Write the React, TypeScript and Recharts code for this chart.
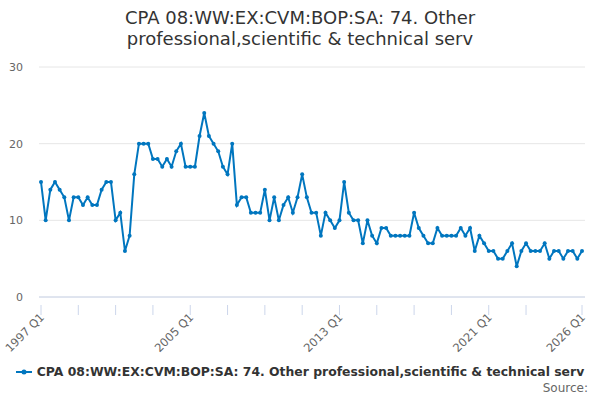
import React from "react";
import { LineChart, Line, XAxis, YAxis, CartesianGrid } from "recharts";

const startYear = 1997;
const endYear = 2026;
const values: number[] = [
  15, 10, 14, 15, 14, 13, 10, 13, 13, 12, 13, 12, 12, 14, 15, 15, 10, 11, 6, 8,
  16, 20, 20, 20, 18, 18, 17, 18, 17, 19, 20, 17, 17, 17, 21, 24, 21, 20, 19, 17,
  16, 20, 12, 13, 13, 11, 11, 11, 14, 10, 13, 10, 12, 13, 11, 13, 16, 13, 11, 11,
  8, 11, 10, 9, 10, 15, 11, 10, 10, 7, 10, 8, 7, 9, 9, 8, 8, 8, 8, 8,
  11, 9, 8, 7, 7, 9, 8, 8, 8, 8, 9, 8, 9, 6, 8, 7, 6, 6, 5, 5,
  6, 7, 4, 6, 7, 6, 6, 6, 7, 5, 6, 6, 5, 6, 6, 5, 6,
];
const yTicks = [0, 10, 20, 30];
const tickMarkLabels = [
  "1997 Q1", "1999 Q1", "2001 Q1", "2003 Q1", "2005 Q1", "2007 Q1", "2009 Q1",
  "2011 Q1", "2013 Q1", "2015 Q1", "2017 Q1", "2019 Q1", "2021 Q1", "2023 Q1", "2026 Q1",
];
const shownLabels = ["1997 Q1", "2005 Q1", "2013 Q1", "2021 Q1", "2026 Q1"];

const categories: string[] = [];
for (let y = startYear; y <= endYear; y++) {
  for (let q = 1; q <= 4; q++) {
    if (y === endYear && q > 1) break;
    categories.push(`${y} Q${q}`);
  }
}
const data = categories.map((c, i) => ({ period: c, value: values[i] }));

const COLOR = "#0076bf";
const FONT = "'DejaVu Sans', sans-serif";
const TITLE =
  "CPA 08:WW:EX:CVM:BOP:SA: 74. Other professional,scientific & technical serv";

const XTick = (props: any) => {
  const { x, y, payload } = props;
  const label = payload.value as string;
  return (
    <g>
      <line x1={x} y1={y} x2={x} y2={y + 10} stroke="#ccd6eb" strokeWidth={1} />
      {shownLabels.includes(label) && (
        <text
          x={x + 4}
          y={y + 13}
          textAnchor="end"
          fontSize={11.5}
          fill="#666666"
          fontFamily={FONT}
          transform={`rotate(-45 ${x + 4} ${y + 13})`}
        >
          {label}
        </text>
      )}
    </g>
  );
};

export default function App() {
  return (
    <div
      style={{
        position: "absolute",
        left: 0,
        top: 0,
        width: 600,
        height: 400,
        background: "#fff",
        fontFamily: FONT,
      }}
    >
      <div
        style={{
          position: "absolute",
          left: 60,
          width: 480,
          top: 7,
          textAlign: "center",
          fontSize: 18,
          lineHeight: "21px",
          color: "#333333",
        }}
      >
        {TITLE}
      </div>
      <LineChart
        width={600}
        height={400}
        data={data}
        margin={{ top: 67, right: 15, bottom: 0, left: 0 }}
      >
        <CartesianGrid vertical={false} stroke="#e6e6e6" />
        <XAxis
          dataKey="period"
          ticks={tickMarkLabels}
          interval={0}
          tick={<XTick />}
          tickLine={false}
          axisLine={{ stroke: "#ccd6eb" }}
          padding={{ left: 2, right: 3 }}
          height={103}
        />
        <YAxis
          domain={[0, 30]}
          ticks={yTicks}
          width={39}
          axisLine={false}
          tickLine={false}
          tickSize={0}
          tickMargin={16}
          tick={{ fontSize: 11, fill: "#666666", fontFamily: FONT }}
        />
        <Line
          type="linear"
          dataKey="value"
          stroke={COLOR}
          strokeWidth={2}
          dot={{ r: 2, fill: COLOR, stroke: COLOR, strokeWidth: 0 }}
          isAnimationActive={false}
        />
      </LineChart>
      <div
        style={{
          position: "absolute",
          left: 0,
          width: 600,
          top: 364,
          display: "flex",
          justifyContent: "center",
          alignItems: "center",
        }}
      >
        <svg width={16} height={10} style={{ marginRight: 5 }}>
          <line x1={0} y1={5} x2={16} y2={5} stroke={COLOR} strokeWidth={2} />
          <circle cx={8} cy={5} r={2.5} fill={COLOR} />
        </svg>
        <span style={{ fontSize: 12.4, fontWeight: "bold", color: "#333333" }}>
          {TITLE}
        </span>
      </div>
      <div
        style={{
          position: "absolute",
          right: 12,
          top: 381,
          fontSize: 12,
          color: "#666666",
        }}
      >
        Source:
      </div>
    </div>
  );
}
